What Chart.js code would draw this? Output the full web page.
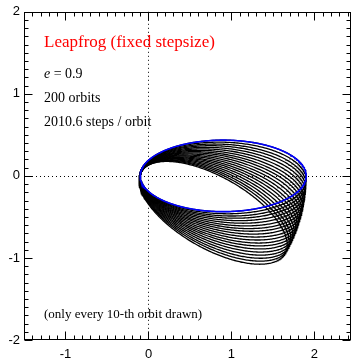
<!DOCTYPE html>
<html>
<head>
<meta charset="utf-8">
<script src="https://cdn.jsdelivr.net/npm/chart.js@4.4.1/dist/chart.umd.min.js"></script>
<style>
  html, body { margin: 0; padding: 0; background: #fff; }
  #wrap { width: 358px; height: 359px; }
</style>
</head>
<body>
<div id="wrap"><canvas id="orbitChart"></canvas></div>
<script>
// axis ticks
const xTicks = [-1, 0, 1, 2];
const yTicks = [-2, -1, 0, 1, 2];

// orbit parameters
const eccentricity = 0.9;
const semiMajor = 1.0;
// orbit number of each drawn curve (every 10th)
const orbitNumbers = [0, 10, 20, 30, 40, 50, 60, 70, 80, 90, 100, 110, 120, 130, 140, 150, 160, 170, 180, 190];
// rotation of the major axis for each drawn orbit, degrees (clockwise = negative)
const precessionDeg = [0, -1.6, -3.2, -4.7, -6.3, -7.9, -9.5, -11.1, -12.6, -14.2, -15.8, -17.4, -19.0, -20.5, -22.1, -23.7, -25.3, -26.9, -28.4, -30.0];

const labelLines = ['200 orbits', '2010.6 steps / orbit'];

// one kepler ellipse, focus at the origin, pericentre on the -x side
const orbitPoints = (rotDeg) => {
    const b = semiMajor * Math.sqrt(1 - eccentricity * eccentricity);
    const phi = rotDeg * Math.PI / 180;
    const pts = [];
    const n = 360;
    for (let i = 0; i <= n; i++) {
        const E = 2 * Math.PI * i / n;
        const x0 = -semiMajor * (Math.cos(E) - eccentricity);
        const y0 = -b * Math.sin(E);
        pts.push({
            x: x0 * Math.cos(phi) - y0 * Math.sin(phi),
            y: x0 * Math.sin(phi) + y0 * Math.cos(phi)
        });
    }
    return pts;
};

const datasets = [];
// first orbit in blue, on top
datasets.push({
    label: 'orbit ' + orbitNumbers[0],
    data: orbitPoints(precessionDeg[0]),
    borderColor: '#0000ff',
    borderWidth: 1.6,
    showLine: true,
    pointRadius: 0,
    fill: false
});
orbitNumbers.forEach((num, i) => {
    datasets.push({
        label: 'orbit ' + num,
        data: orbitPoints(precessionDeg[i]),
        borderColor: '#000000',
        borderWidth: 1.3,
        showLine: true,
        pointRadius: 0,
        fill: false
    });
});

const frameAndText = {
    id: 'frameAndText',
    beforeDatasetsDraw(chart) {
        const { ctx, chartArea: a, scales: { x, y } } = chart;
        ctx.save();
        // dotted zero lines
        ctx.strokeStyle = '#000';
        ctx.lineWidth = 1;
        ctx.setLineDash([1, 3]);
        ctx.beginPath();
        const x0 = Math.round(x.getPixelForValue(0)) + 0.5;
        const y0 = Math.round(y.getPixelForValue(0)) + 0.5;
        ctx.moveTo(x0, a.top); ctx.lineTo(x0, a.bottom);
        ctx.moveTo(a.left, y0); ctx.lineTo(a.right, y0);
        ctx.stroke();
        ctx.restore();
    },
    afterDraw(chart) {
        const { ctx, chartArea: a, scales: { x, y } } = chart;
        ctx.save();
        ctx.strokeStyle = '#000';
        ctx.lineWidth = 1;
        const L = Math.round(a.left) + 0.5, R = Math.round(a.right) - 0.5;
        const T = Math.round(a.top) + 0.5, B = Math.round(a.bottom) - 0.5;
        ctx.strokeRect(L, T, R - L, B - T);
        ctx.beginPath();
        // ticks pointing inwards on all four sides
        for (let k = -15; k <= 24; k++) {
            const v = k / 10;
            const px = Math.round(x.getPixelForValue(v)) + 0.5;
            const len = (k % 10 === 0) ? 8 : 4;
            ctx.moveTo(px, B); ctx.lineTo(px, B - len);
            ctx.moveTo(px, T); ctx.lineTo(px, T + len);
        }
        for (let k = -20; k <= 20; k++) {
            const v = k / 10;
            const py = Math.round(y.getPixelForValue(v)) + 0.5;
            const len = (k % 10 === 0) ? 8 : 4;
            ctx.moveTo(L, py); ctx.lineTo(L + len, py);
            ctx.moveTo(R, py); ctx.lineTo(R - len, py);
        }
        ctx.stroke();

        // labels
        const tx = 44;
        ctx.textBaseline = 'alphabetic';
        ctx.textAlign = 'left';
        ctx.fillStyle = '#ff0000';
        ctx.font = '17px "Liberation Serif"';
        ctx.fillText('Leapfrog (fixed stepsize)', tx, 47);

        ctx.fillStyle = '#000';
        ctx.font = 'italic 14px "Liberation Serif"';
        ctx.fillText('e', tx, 78);
        const ew = ctx.measureText('e').width;
        ctx.font = '14px "Liberation Serif"';
        ctx.fillText(' = ' + eccentricity, tx + ew, 78);
        ctx.fillText(labelLines[0], tx, 102);
        ctx.fillText(labelLines[1], tx, 126);
        ctx.font = '13px "Liberation Serif"';
        ctx.fillText('(only every 10-th orbit drawn)', tx, 318);
        ctx.restore();
    }
};

const tickFont = { family: 'Liberation Sans', size: 13 };

new Chart(document.getElementById('orbitChart').getContext('2d'), {
    type: 'scatter',
    data: { datasets: datasets },
    options: {
        responsive: true,
        maintainAspectRatio: false,
        animation: false,
        layout: { padding: { top: 9, right: 7, left: 0, bottom: 0 } },
        plugins: {
            legend: { display: false },
            tooltip: { enabled: false }
        },
        elements: { line: { tension: 0 } },
        scales: {
            x: {
                type: 'linear',
                min: -1.5,
                max: 2.44,
                grid: { display: false, drawTicks: false },
                border: { display: false },
                ticks: { color: '#000', font: tickFont, padding: 7, maxRotation: 0 },
                afterBuildTicks: (scale) => { scale.ticks = xTicks.map(v => ({ value: v })); },
                afterFit: (scale) => { scale.height = 19; }
            },
            y: {
                type: 'linear',
                min: -2,
                max: 2,
                grid: { display: false, drawTicks: false },
                border: { display: false },
                ticks: { color: '#000', font: tickFont, padding: 4 },
                afterBuildTicks: (scale) => { scale.ticks = yTicks.map(v => ({ value: v })); },
                afterFit: (scale) => { scale.width = 24; }
            }
        }
    },
    plugins: [frameAndText]
});
</script>
</body>
</html>
